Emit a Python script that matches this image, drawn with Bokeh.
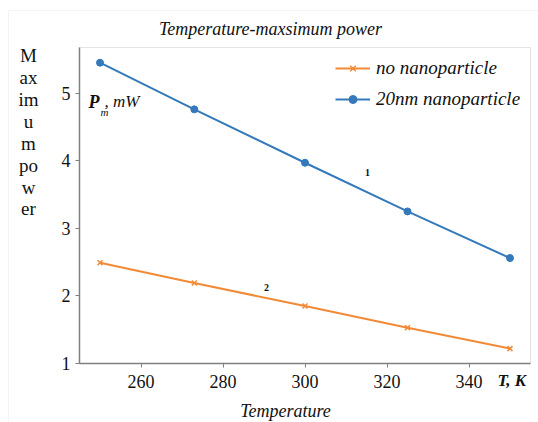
from bokeh.plotting import figure
from bokeh.models import Label, Legend, LegendItem, Range1d, FixedTicker, BoxAnnotation
from bokeh.embed import file_html
from bokeh.resources import INLINE

# ---- data ----
temperature = [250, 273, 300, 325, 350]
no_nano = [2.49, 2.19, 1.85, 1.53, 1.22]
nano_20nm = [5.45, 4.76, 3.97, 3.25, 2.56]
x_ticks = [260, 280, 300, 320, 340]
y_ticks = [1, 2, 3, 4, 5]
x_lo, x_hi = 245, 355
y_lo, y_hi = 1, 5.675

BLUE = "#3479ba"
ORANGE = "#f28a35"
SERIF = "Liberation Serif"

W, H = 538, 422
# pixel box of the plotting area inside the canvas
BL, BR, BT, BB = 79, 530, 47, 363
sx = (BR - BL) / (x_hi - x_lo)
sy = (BB - BT) / (y_hi - y_lo)
X0, X1 = x_lo - BL / sx, x_hi + (W - BR) / sx
Y0, Y1 = y_lo - (H - BB) / sy, y_hi + BT / sy

p = figure(width=W, height=H, output_backend="svg", toolbar_location=None,
           x_range=Range1d(X0, X1), y_range=Range1d(Y0, Y1),
           min_border=0)
p.background_fill_color = "white"
p.border_fill_color = "white"
p.outline_line_color = None
p.xgrid.visible = False
p.ygrid.visible = False

xa, ya = p.xaxis[0], p.yaxis[0]
xa.fixed_location = y_lo
ya.fixed_location = x_lo
xa.bounds = (x_lo, x_hi)
ya.bounds = (y_lo, y_hi)
for ax in (xa, ya):
    ax.axis_line_color = "#7f7f7f"
    ax.axis_line_width = 1.5
    ax.major_tick_line_color = "#7f7f7f"
    ax.major_tick_in = 0
    ax.major_tick_out = 4
    ax.minor_tick_line_color = None
    ax.major_label_text_font = SERIF
    ax.major_label_text_font_size = "18px"
    ax.major_label_text_color = "#111111"
xa.ticker = FixedTicker(ticks=x_ticks)
ya.ticker = FixedTicker(ticks=y_ticks)
xa.major_label_standoff = 7
ya.major_label_standoff = 5

# chart-area outline and plot box
p.add_layout(BoxAnnotation(left=X0 + 8 / sx, top=Y1 - 10 / sy, fill_alpha=0,
                           line_color="#dcdcdc", line_width=1, level="underlay"))
p.add_layout(BoxAnnotation(left=x_lo, right=x_hi, bottom=y_lo, top=y_hi, fill_alpha=0,
                           line_color="#a6a6a6", line_width=1, level="underlay"))

l1 = p.line(temperature, no_nano, line_color=ORANGE, line_width=2)
s1 = p.scatter(temperature, no_nano, marker="x", size=7, line_color=ORANGE, line_width=1.5)
l2 = p.line(temperature, nano_20nm, line_color=BLUE, line_width=2)
s2 = p.scatter(temperature, nano_20nm, marker="circle", size=7, fill_color=BLUE, line_color=BLUE)

legend = Legend(items=[LegendItem(label="no nanoparticle", renderers=[l1, s1]),
                       LegendItem(label="20nm nanoparticle", renderers=[l2, s2])],
                location=(335, 312), orientation="vertical")
legend.border_line_color = None
legend.background_fill_color = "white"
legend.background_fill_alpha = 1.0
legend.label_text_font = SERIF
legend.label_text_font_style = "italic"
legend.label_text_font_size = "19px"
legend.label_text_color = "#111111"
legend.glyph_width = 35
legend.glyph_height = 20
legend.label_height = 20
legend.spacing = 9
legend.label_standoff = 6
legend.padding = 10
p.add_layout(legend)


def dx(px):
    return X0 + px / sx


def dy(py):
    return Y1 - py / sy


def add_text(text, px, py, size="16px", style="normal", align="left", color="#111111"):
    p.add_layout(Label(x=dx(px), y=dy(py), text=text, text_font=SERIF,
                       text_font_size=size, text_font_style=style,
                       text_align=align, text_baseline="middle", text_color=color))


add_text("Temperature-maxsimum power", 270, 28, size="18px", style="italic", align="center")
add_text("Temperature", 285, 410, size="18px", style="italic", align="center")
for word, py in zip(["M", "ax", "im", "u", "m", "po", "w", "er"],
                    [55, 77, 99, 121, 143, 165, 187, 208]):
    add_text(word, 28, py, size="19px", align="center")
add_text("P", 88, 101, size="18px", style="bold italic")
add_text("m", 100, 111, size="11px", style="italic")
add_text(", mW", 104, 101, size="17px", style="italic")
add_text("T, K", 497, 380, size="17px", style="bold italic")
add_text("1", 367, 172, size="10px", style="bold", align="center")
add_text("2", 266, 287, size="10px", style="bold", align="center")

open("out.html", "w").write(file_html(p, INLINE))
